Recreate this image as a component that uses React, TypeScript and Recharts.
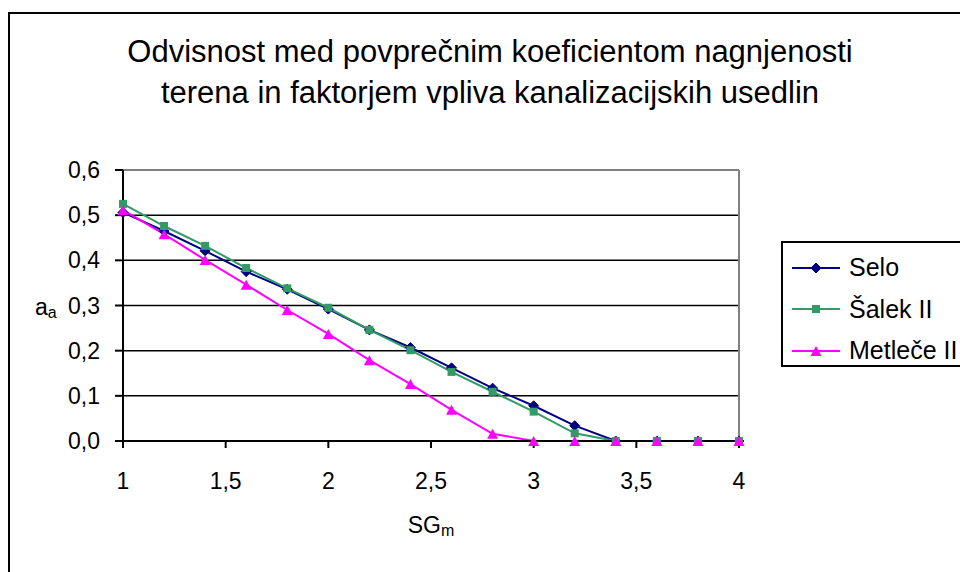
import { LineChart, Line, XAxis, YAxis, ReferenceLine, Legend, Label } from 'recharts';

const sgValues = [1, 1.2, 1.4, 1.6, 1.8, 2, 2.2, 2.4, 2.6, 2.8, 3, 3.2, 3.4, 3.6, 3.8, 4];
const seloValues = [0.506, 0.465, 0.421, 0.375, 0.336, 0.292, 0.246, 0.207, 0.162, 0.117, 0.078, 0.034, 0, 0, 0, 0];
const salekValues = [0.525, 0.476, 0.432, 0.383, 0.338, 0.295, 0.246, 0.201, 0.153, 0.109, 0.065, 0.017, 0, 0, 0, 0];
const metleceValues = [0.511, 0.458, 0.401, 0.346, 0.29, 0.237, 0.179, 0.126, 0.069, 0.016, 0, 0, 0, 0, 0, 0];

const seriesOrder = ['selo', 'salek', 'metlece'];
const xTicks = [1, 1.5, 2, 2.5, 3, 3.5, 4];
const yTicks = [0, 0.1, 0.2, 0.3, 0.4, 0.5, 0.6];
const gridValues = [0.1, 0.2, 0.3, 0.4, 0.5];

const titleLines = [
  'Odvisnost med povprečnim koeficientom nagnjenosti',
  'terena in faktorjem vpliva kanalizacijskih usedlin',
];

const data = sgValues.map((sg, i) => ({
  sg,
  selo: seloValues[i],
  salek: salekValues[i],
  metlece: metleceValues[i],
}));

const FONT = '"Liberation Sans", Arial, sans-serif';
const NAVY = '#000080';
const GREEN = '#339966';
const MAGENTA = '#FF00FF';

const comma = (v: number, digits?: number) =>
  (digits === undefined ? String(v) : v.toFixed(digits)).replace('.', ',');

function Diamond({ cx, cy, color }: any) {
  const r = 5;
  return <path d={`M${cx},${cy - r}L${cx + r},${cy}L${cx},${cy + r}L${cx - r},${cy}Z`} fill={color} stroke={color} />;
}

function Square({ cx, cy, color }: any) {
  const s = 4;
  return <rect x={cx - s} y={cy - s} width={s * 2} height={s * 2} fill={color} />;
}

function Triangle({ cx, cy, color }: any) {
  const w = 5.5, h = 5;
  return <path d={`M${cx},${cy - h}L${cx + w},${cy + h}L${cx - w},${cy + h}Z`} fill={color} />;
}

const markers: Record<string, any> = { selo: Diamond, salek: Square, metlece: Triangle };

const dotFor = (key: string, color: string) => (p: any) => {
  const M = markers[key];
  return <M key={`${key}-${p.index}`} cx={p.cx} cy={p.cy} color={color} />;
};

function LegendBox({ payload }: any) {
  const items = [...(payload || [])].sort(
    (a: any, b: any) => seriesOrder.indexOf(a.dataKey) - seriesOrder.indexOf(b.dataKey)
  );
  return (
    <div
      style={{
        border: '2px solid #000',
        background: '#fff',
        width: 200,
        height: 126,
        boxSizing: 'border-box',
        paddingTop: 4,
        fontFamily: FONT,
        fontSize: 25,
      }}
    >
      {items.map((item: any) => {
        const M = markers[item.dataKey];
        return (
          <div key={item.dataKey} style={{ display: 'flex', alignItems: 'center', height: 41.5 }}>
            <svg width={57} height={20} style={{ marginLeft: 9 }}>
              <line x1={0} y1={10} x2={48} y2={10} stroke={item.color} strokeWidth={2} />
              <M cx={24} cy={10} color={item.color} />
            </svg>
            <span>{item.value}</span>
          </div>
        );
      })}
    </div>
  );
}

function YLabel({ viewBox }: any) {
  const y = viewBox.y + viewBox.height / 2 + 9;
  return (
    <text x={35} y={y} fontFamily={FONT} fontSize={23} fill="#000">
      a<tspan fontSize={16} dy={3}>a</tspan>
    </text>
  );
}

function XLabel({ viewBox }: any) {
  const cx = viewBox.x + viewBox.width / 2;
  return (
    <text x={cx} y={533} textAnchor="middle" fontFamily={FONT} fontSize={23} fill="#000">
      SG<tspan fontSize={16} dy={3}>m</tspan>
    </text>
  );
}

export default function App() {
  return (
    <div style={{ position: 'fixed', left: 0, top: 0, width: 960, height: 572, background: '#fff', overflow: 'hidden' }}>
      <div
        style={{
          position: 'absolute',
          left: 8,
          top: 12,
          width: 1000,
          height: 600,
          border: '2px solid #000',
        }}
      />
      <div
        style={{
          position: 'absolute',
          left: 90,
          top: 31,
          width: 800,
          textAlign: 'center',
          fontFamily: FONT,
          fontSize: 31,
          lineHeight: '41px',
          color: '#000',
        }}
      >
        {titleLines.map((t) => (
          <div key={t}>{t}</div>
        ))}
      </div>
      <div style={{ position: 'absolute', left: 0, top: 0 }}>
        <LineChart width={960} height={572} data={data} margin={{ top: 170, right: 221, left: 0, bottom: 0 }}>
          {gridValues.map((v) => (
            <ReferenceLine key={v} y={v} stroke="#000" strokeWidth={1.5} />
          ))}
          <ReferenceLine y={0.6} stroke="#808080" strokeWidth={2} />
          <ReferenceLine x={4} stroke="#808080" strokeWidth={2} />
          <XAxis
            dataKey="sg"
            type="number"
            domain={[1, 4]}
            ticks={xTicks}
            tickFormatter={(v) => comma(v)}
            height={131}
            stroke="#000"
            strokeWidth={2}
            tickSize={7}
            tickMargin={25}
            tick={{ fill: '#000', fontSize: 23, fontFamily: FONT }}
          >
            <Label content={<XLabel />} />
          </XAxis>
          <YAxis
            type="number"
            domain={[0, 0.6]}
            ticks={yTicks}
            tickFormatter={(v) => comma(v, 1)}
            width={123}
            stroke="#000"
            strokeWidth={2}
            tickSize={8}
            tickMargin={15}
            tick={{ fill: '#000', fontSize: 23, fontFamily: FONT }}
          >
            <Label content={<YLabel />} />
          </YAxis>
          <Legend
            layout="vertical"
            align="center"
            verticalAlign="middle"
            content={<LegendBox />}
            wrapperStyle={{ left: 781, top: 241, width: 200, height: 126 }}
          />
          <Line
            dataKey="selo"
            name="Selo"
            stroke={NAVY}
            strokeWidth={2}
            dot={dotFor('selo', NAVY)}
            activeDot={false}
            isAnimationActive={false}
          />
          <Line
            dataKey="salek"
            name="Šalek II"
            stroke={GREEN}
            strokeWidth={2}
            dot={dotFor('salek', GREEN)}
            activeDot={false}
            isAnimationActive={false}
          />
          <Line
            dataKey="metlece"
            name="Metleče II"
            stroke={MAGENTA}
            strokeWidth={2}
            dot={dotFor('metlece', MAGENTA)}
            activeDot={false}
            isAnimationActive={false}
          />
        </LineChart>
      </div>
    </div>
  );
}
